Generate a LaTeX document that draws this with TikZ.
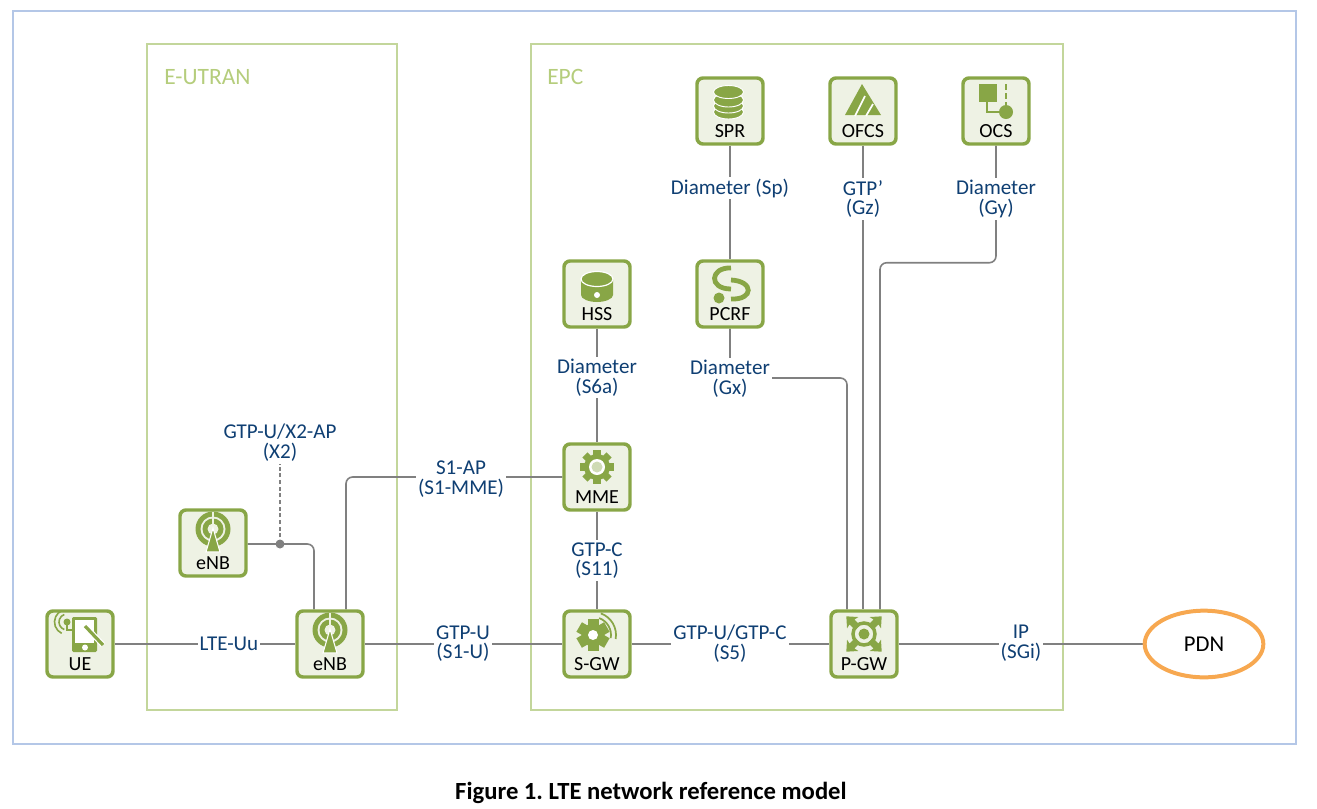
\documentclass[tikz,border=0pt]{standalone}
\usepackage{fontspec}
\setmainfont{Carlito}
\usetikzlibrary{calc,shapes.geometric}
\definecolor{gr}{HTML}{88A646}
\definecolor{boxbg}{HTML}{EEF2E4}
\definecolor{framegr}{HTML}{C3D69B}
\definecolor{framebl}{HTML}{B4C7E7}
\definecolor{lin}{HTML}{808080}
\definecolor{navy}{HTML}{0F3F73}
\definecolor{orng}{HTML}{F7A850}
\definecolor{etxt}{HTML}{B5CD7C}
\pgfdeclarelayer{bg}
\pgfsetlayers{bg,main}
\frenchspacing
\tikzset{
 px/.style={x=0.75pt,y=-0.75pt},
 netbox/.style={draw=gr,fill=boxbg,line width=2.6pt,rounded corners=4.5pt,minimum size=49.5pt,inner sep=0pt,
   label={[name=#1-t,yshift=-15pt,text=black,font=\fontsize{15}{15}\selectfont,inner sep=0pt]center:\boxlabel}},
 lab/.style={fill=white,text=navy,align=center,inner sep=1.5pt,font=\fontsize{15.8}{14.8}\selectfont},
 conn/.style={draw=lin,line width=1.2pt,rounded corners=5pt},
 framebox/.style={draw=framegr,line width=1.3pt},
 ft/.style={text=etxt,anchor=west,inner sep=0pt,font=\fontsize{17.6}{18}\selectfont},
}
\newcommand{\netnode}[4]{\def\boxlabel{#4}\node[netbox=#1] (#1) at (#2,#3) {};}
\newcommand{\antenna}[1]{\begin{scope}[shift={(#1.center)}]
 \fill[gr] (0,-14) circle (17.5);
 \fill[boxbg] (0,-14) circle (12.5);
 \fill[gr] (0,-14) circle (10.5);
 \fill[boxbg] (0,-14) circle (5.5);
 \draw[boxbg,line width=0.9pt] (0,-31) -- (0,-14);
 \fill[gr,draw=white,line width=0.8pt] (0,-15) -- (7,9) -- (-7,9) -- cycle;
\end{scope}}
\newcommand{\gearicon}[1]{\begin{scope}[shift={(#1.center)}]
 \fill[gr] (0,-10) circle (13);
 \foreach \a in {0,45,...,315}{\begin{scope}[shift={(0,-10)},rotate=\a]\fill[gr] (-3.6,-17) rectangle (3.6,-9);\end{scope}}
 \fill[white] (0,-10) circle (8);
 \fill[gr!30!boxbg] (0,-10) circle (5.5);
\end{scope}}
\begin{document}
\begin{tikzpicture}[px]
\useasboundingbox (0,0) rectangle (1317,808);
% boxes
\netnode{ue}{80}{644}{UE}
\netnode{enba}{330}{644}{eNB}
\netnode{enbb}{213}{543}{eNB}
\netnode{sgw}{597}{644}{S-GW}
\netnode{pgw}{864}{644}{P-GW}
\netnode{mme}{597}{477}{MME}
\netnode{hss}{597}{294}{HSS}
\netnode{pcrf}{730}{294}{PCRF}
\netnode{spr}{730}{111}{SPR}
\netnode{ofcs}{863}{111}{OFCS}
\netnode{ocs}{996}{111}{OCS}
\node[draw=orng,fill=white,line width=3pt,ellipse,minimum width=89pt,minimum height=50pt,inner sep=0pt,text=black,font=\fontsize{17}{18}\selectfont] (pdn) at (1204,644) {PDN};
% labels
\node[lab] (l-uu) at (229,644) {LTE-Uu};
\node[lab] (l-s1u) at (463,643.5) {GTP-U\\(S1-U)};
\node[lab] (l-s5) at (730,643.5) {GTP-U/GTP-C\\(S5)};
\node[lab] (l-sgi) at (1021,643.5) {IP\\(SGi)};
\node[lab] (l-s1m) at (461,479) {S1-AP\\(S1-MME)};
\node[lab] (l-x2) at (280,443) {GTP-U/X2-AP\\(X2)};
\node[lab] (l-s6a) at (597,377.5) {Diameter\\(S6a)};
\node[lab] (l-s11) at (597,560.5) {GTP-C\\(S11)};
\node[lab] (l-sp) at (730,188) {Diameter (Sp)};
\node[lab] (l-gz) at (863,199) {GTP’\\(Gz)};
\node[lab] (l-gy) at (996,199) {Diameter\\(Gy)};
\node[lab] (l-gx) at (730,378.5) {Diameter\\(Gx)};
\node[ft] (eutran) at (164,77) {E-UTRAN};
\node[ft] (epc) at (547,77) {EPC};
\node[font=\bfseries\fontsize{18.5}{20}\selectfont,text=black] (cap) at (651,792.5) {Figure 1. LTE network reference model};
\coordinate (j) at (280,544);
\fill[lin] (j) circle (4.5);
\begin{pgfonlayer}{bg}
\draw[framebl,line width=1.2pt] (13,11) rectangle (1296,744);
\draw[framebox] (147,44) rectangle (397,710);
\draw[framebox] (531,44) rectangle (1063,710);
\draw[conn] (ue) -- (enba);
\draw[conn] (enba) -- (sgw);
\draw[conn] (sgw) -- (pgw);
\draw[conn] (pgw) -- (pdn);
\draw[conn] (hss) -- (mme);
\draw[conn] (mme) -- (sgw);
\draw[conn] (spr) -- (pcrf);
\draw[conn] (ofcs) -- (pgw.north -| ofcs);
\draw[conn] (enbb.east |- j) -- (j) -- ($(j -| enba.north)+(-16,0)$) -- ($(enba.north)+(-16,0)$);
\draw[conn] ($(enba.north)+(16,0)$) -- ($(enba.north |- mme.west)+(16,0)$) -- (mme.west);
\draw[conn] (pcrf.south) -- (pcrf.south |- 0,378) -- ($(pgw.north |- 0,378)+(-17,0)$) -- ($(pgw.north)+(-17,0)$);
\draw[conn] (ocs.south) -- ($(ocs.south)+(0,117)$) -- ($(pgw.north |- ocs.south)+(16,117)$) -- ($(pgw.north)+(16,0)$);
\draw[draw=lin,line width=1pt,densely dashed] (j) -- (l-x2.south);
\end{pgfonlayer}
% icons
\antenna{enba}
\antenna{enbb}
\gearicon{mme}
% UE
\begin{scope}[shift={(ue.center)}]
 \fill[gr,rounded corners=1pt] (-8,-27) rectangle (17,8);
 \fill[white] (-5,-24) rectangle (14,-1);
 \fill[white] (5,3.5) circle (3);
 \draw[white,line width=4.2pt] (5,-18) -- (23,1);
 \draw[gr,line width=2.4pt] (5,-18) -- (23,1);
 \fill[gr] (-13,-22) circle (3.5);
 \draw[gr,line width=1.5pt] (-13,-22) -- (-13,-14) -- (-8,-14);
 \draw[gr,line width=1.2pt] (-13,-22) ++(110:8) arc[start angle=110,end angle=250,radius=8];
 \draw[gr,line width=1.2pt] (-13,-22) ++(115:12.5) arc[start angle=115,end angle=245,radius=12.5];
\end{scope}
% S-GW
\begin{scope}[shift={(sgw.center)}]
 \begin{scope}[shift={(-4,-9)}]
  \fill[gr] (0,0) circle (11.5);
  \foreach \a in {30,90,...,330}{\begin{scope}[rotate=\a]\fill[gr] (9,-5.5) rectangle (16,5.5);\end{scope}}
  \fill[white] (0,0) circle (5);
  \draw[gr,line width=1.3pt] (-70:18) arc[start angle=-70,end angle=10,radius=18];
  \draw[gr,line width=1.3pt] (-70:23) arc[start angle=-70,end angle=10,radius=23];
 \end{scope}
\end{scope}
% P-GW
\begin{scope}[shift={(pgw.center)}]
 \begin{scope}[shift={(0,-10)}]
  \draw[gr,line width=2.6pt] (0,0) circle (11);
  \fill[gr] (0,0) circle (5.5);
  \foreach \a in {45,135,225,315}{\begin{scope}[rotate=\a]
   \fill[gr] (9,-3.5) -- (17,-3.5) -- (16,-8) -- (25,0) -- (16,8) -- (17,3.5) -- (9,3.5) -- cycle;
  \end{scope}}
 \end{scope}
\end{scope}
% HSS
\begin{scope}[shift={(hss.center)}]
 \fill[gr] (-16,-15) -- (-16,1) .. controls (-16,5) and (-8,8) .. (0,8) .. controls (8,8) and (16,5) .. (16,1) -- (16,-15) -- cycle;
 \fill[gr,draw=white,line width=0.9pt] (0,-15) ellipse (16 and 7.5);
 \fill[white] (0,1) circle (3);
\end{scope}
% SPR
\begin{scope}[shift={(spr.center)}]
 \foreach \c in {1,-5,-11}{
  \fill[gr,draw=white,line width=0.7pt] (-1.5,\c) ellipse (15 and 7);
 }
 \fill[gr,draw=white,line width=0.7pt] (-1.5,-19) ellipse (15 and 6.5);
\end{scope}
% OFCS
\begin{scope}[shift={(ofcs.center)}]
 \fill[gr] (-1,-27) -- (18,4) -- (-18,4) -- cycle;
 \draw[white,line width=1.3pt] (2,-15) -- (-8,5);
 \draw[white,line width=1.3pt] (10,-7) -- (3,5);
\end{scope}
% OCS
\begin{scope}[shift={(ocs.center)}]
 \fill[gr] (-17,-27) rectangle (1,-9);
 \draw[gr,line width=2pt,dash pattern=on 4.5pt off 2.3pt] (10,-27) -- (10,-6);
 \fill[gr] (10,1) circle (7);
 \draw[gr,line width=2.2pt] (-9,-9) -- (-9,1) -- (10,1);
\end{scope}
% PCRF
\begin{scope}[shift={(pcrf.center)}]
 \fill[gr] (-11,4) circle (5.5);
 \draw[gr,line width=3.6pt] (1,-26) .. controls (-20,-27) and (-22,-5) .. (1,-5);
 \draw[gr,line width=3.6pt] (1,-14) .. controls (24,-13) and (24,6) .. (1,5);
\end{scope}
\end{tikzpicture}
\end{document}
